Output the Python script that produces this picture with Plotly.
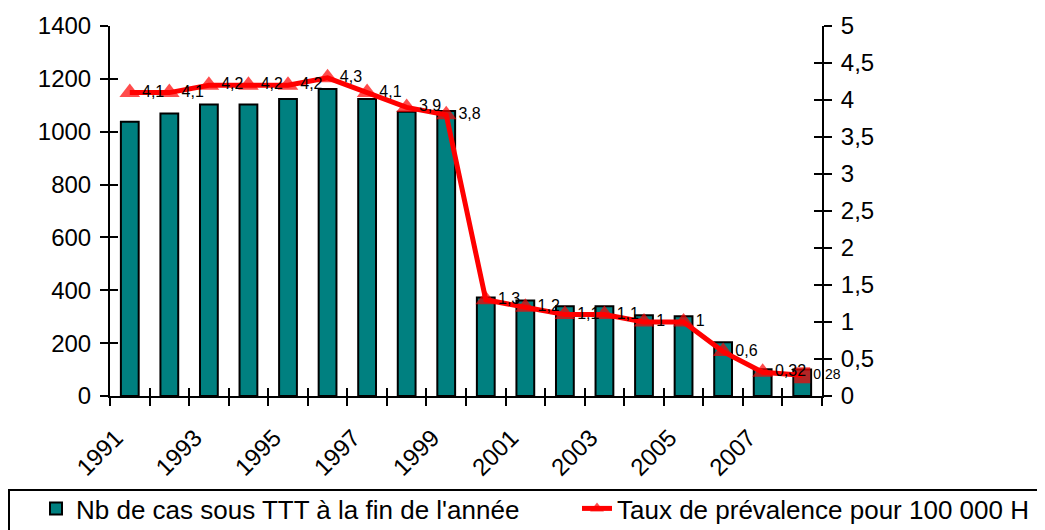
import plotly.graph_objects as go

years = list(range(1991, 2009))
cases = [1038, 1069, 1103, 1103, 1124, 1162, 1124, 1076, 1078,
         373, 361, 340, 340, 306, 302, 203, 101, 100]
rate = [4.1, 4.1, 4.2, 4.2, 4.2, 4.3, 4.1, 3.9, 3.8,
        1.3, 1.2, 1.1, 1.1, 1.0, 1.0, 0.6, 0.32, 0.28]
rate_labels = ["4,1", "4,1", "4,2", "4,2", "4,2", "4,3", "4,1", "3,9", "3,8",
               "1,3", "1,2", "1,1", "1,1", "1", "1", "0,6", "0,32", "0,28"]
label_years = [1991, 1993, 1995, 1997, 1999, 2001, 2003, 2005, 2007]
left_ticks = [0, 200, 400, 600, 800, 1000, 1200, 1400]
right_ticks = [0, 0.5, 1, 1.5, 2, 2.5, 3, 3.5, 4, 4.5, 5]
right_ticktext = ["0", "0,5", "1", "1,5", "2", "2,5", "3", "3,5", "4", "4,5", "5"]

FONT = "Liberation Sans, Arial, sans-serif"
teal = "#008080"
red = "#FF0000"
n = len(years)

fig = go.Figure()
fig.add_trace(go.Bar(
    x=years, y=cases, width=0.45,
    marker=dict(color=teal, line=dict(color="black", width=2)),
    name="Nb de cas sous TTT à la fin de l'année",
    xaxis="x", yaxis="y", legend="legend",
))
fig.add_trace(go.Scatter(
    x=years, y=rate, mode="lines+markers+text",
    line=dict(color=red, width=5),
    marker=dict(color=red, size=[18] * (n - 1) + [16],
                symbol=["triangle-up"] * (n - 1) + ["square"],
                line=dict(width=0)),
    text=rate_labels, textposition="middle right",
    textfont=dict(family=FONT, size=[16] * (n - 1) + [14], color="black"),
    cliponaxis=False,
    name="Taux de prévalence pour 100 000 H",
    xaxis="x", yaxis="y2", legend="legend2",
))

axis_line = dict(showline=True, linecolor="black", linewidth=2, showgrid=False,
                 zeroline=False, automargin=False)
helper = dict(showgrid=False, zeroline=False, showline=False, automargin=False)

# plot area: l=102, t=18, w=712, h=370 (page body adds 8px offset)
PL, PW, PB, PH = 102, 712, 388, 370
box_top = -(482 - PB) / PH
leg_top = -(477 - PB) / PH

fig.update_layout(
    width=1045, height=530,
    paper_bgcolor="white", plot_bgcolor="white",
    margin=dict(l=PL, r=1045 - PL - PW, t=18, b=530 - PB, autoexpand=False),
    font=dict(family=FONT, size=24, color="black"),
    barmode="overlay",
    xaxis=dict(**axis_line, range=[1990.5, 2008.5], tickmode="linear", tick0=1990.5, dtick=1,
               ticks="outside", ticklen=8, tickwidth=2, tickcolor="black",
               showticklabels=False),
    xaxis2=dict(**helper, overlaying="x", range=[1990.85, 2008.85], tickmode="array",
                tickvals=label_years, ticktext=[str(y) for y in label_years],
                tickangle=-45, ticks="", side="bottom", anchor="y", ticklabelstandoff=22),
    xaxis3=dict(**helper, overlaying="x", range=[1990.5, 2008.5], tickmode="linear",
                tick0=1990.5, dtick=1, ticks="inside", ticklen=8, tickwidth=2,
                tickcolor="black", showticklabels=False, side="bottom", anchor="y"),
    yaxis=dict(**axis_line, range=[0, 1400], tickvals=left_ticks, ticks="outside",
               ticklen=8, tickwidth=2, tickcolor="black", ticklabelstandoff=4),
    yaxis3=dict(**helper, overlaying="y", range=[0, 1400], tickvals=left_ticks,
                ticks="inside", ticklen=8, tickwidth=2, tickcolor="black",
                showticklabels=False, anchor="x", side="left"),
    yaxis2=dict(**axis_line, overlaying="y", side="right", anchor="x", range=[0, 5],
                tickvals=right_ticks, ticktext=right_ticktext, ticks="outside",
                ticklen=8, tickwidth=2, tickcolor="black", ticklabelstandoff=4),
    yaxis4=dict(**helper, overlaying="y", side="right", anchor="x", range=[0, 5],
                tickvals=right_ticks, ticks="inside", ticklen=8, tickwidth=2,
                tickcolor="black", showticklabels=False),
    legend=dict(orientation="h", x=(28 - PL) / PW, y=leg_top, xanchor="left", yanchor="top",
                borderwidth=0, bgcolor="rgba(0,0,0,0)", font=dict(size=26, family=FONT),
                itemsizing="constant"),
    legend2=dict(orientation="h", x=(569 - PL) / PW, y=leg_top, xanchor="left", yanchor="top",
                 borderwidth=0, bgcolor="rgba(0,0,0,0)", font=dict(size=26, family=FONT),
                 itemsizing="constant"),
    shapes=[dict(type="rect", xref="paper", yref="paper", layer="below",
                 x0=-(PL - 1) / PW, x1=(1045 - PL + 20) / PW,
                 y0=-(540 - PB) / PH, y1=box_top,
                 line=dict(color="black", width=2), fillcolor="rgba(0,0,0,0)")],
)
# invisible traces so the helper axes are drawn
fig.add_trace(go.Scatter(x=[years[0]], y=[None], xaxis="x2", yaxis="y", showlegend=False, hoverinfo="skip"))
fig.add_trace(go.Scatter(x=[years[0]], y=[None], xaxis="x3", yaxis="y3", showlegend=False, hoverinfo="skip"))
fig.add_trace(go.Scatter(x=[years[0]], y=[None], xaxis="x", yaxis="y4", showlegend=False, hoverinfo="skip"))

fig.write_html("out.html")
